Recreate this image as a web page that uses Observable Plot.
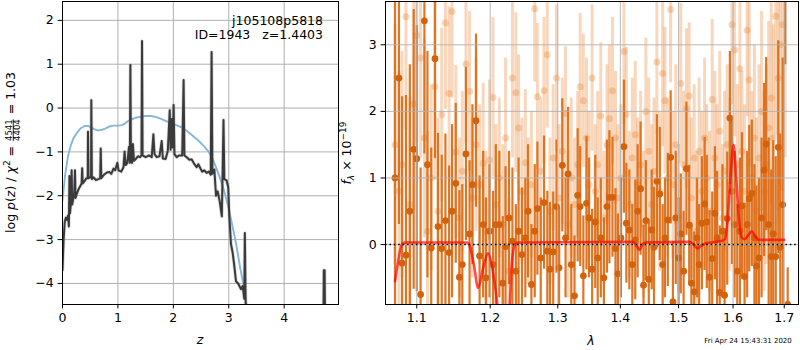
<!DOCTYPE html>
<html><head><meta charset="utf-8">
<script src="https://cdn.jsdelivr.net/npm/d3@7"></script>
<script src="https://cdn.jsdelivr.net/npm/@observablehq/plot@0.6"></script>
<style>
html,body{margin:0;padding:0;background:#fff;}
#wrap{position:relative;width:800px;height:350px;font-family:"DejaVu Sans";}
#wrap svg{position:absolute;left:0;top:0;overflow:visible;}
</style></head><body><div id="wrap"></div>
<script>
// ---------- left panel: p(z) ----------
const zTicks = [0, 1, 2, 3, 4];
const pTicks = [-4, -3, -2, -1, 0, 1, 2];
const pzZ = [0.00,0.02,0.04,0.06,0.08,0.10,0.115,0.125,0.135,0.15,0.165,0.175,0.19,0.21,0.225,0.235,0.26,0.29,0.32,0.345,0.355,0.365,0.40,0.43,0.455,0.46,0.47,0.50,0.515,0.52,0.53,0.56,0.60,0.65,0.68,0.69,0.70,0.75,0.80,0.85,0.88,0.92,0.95,0.99,1.01,1.06,1.10,1.12,1.14,1.17,1.20,1.215,1.225,1.235,1.255,1.27,1.29,1.33,1.36,1.40,1.425,1.435,1.445,1.50,1.56,1.61,1.64,1.66,1.70,1.75,1.79,1.81,1.86,1.90,1.935,1.95,1.97,1.985,2.005,2.02,2.06,2.10,2.16,2.185,2.20,2.24,2.29,2.33,2.38,2.42,2.45,2.49,2.52,2.56,2.60,2.64,2.675,2.69,2.705,2.74,2.77,2.80,2.84,2.875,2.905,2.92,2.96,2.99,3.01,3.04,3.07,3.10,3.13,3.17,3.22,3.25,3.28,3.29,3.31,3.35,4.70,4.715,4.73,4.745,4.98];
const pzLogP = [-3.7,-3.0,-2.6,-2.5,-2.55,-2.45,-2.7,-1.55,-2.4,-2.2,-1.42,-2.2,-2.1,-1.95,-1.42,-2.05,-1.95,-1.85,-1.78,-1.72,-1.37,-1.72,-1.66,-1.6,-1.6,-0.54,-1.6,-1.58,-1.58,0.18,-1.62,-1.58,-1.64,-1.62,-1.6,-0.92,-1.6,-1.52,-1.47,-1.46,-1.5,-1.38,-1.42,-1.25,-1.42,-1.45,-1.35,-0.99,-1.3,-1.25,-0.88,-1.25,0.98,-1.2,-1.25,-0.82,-1.2,-1.15,-1.1,-1.12,-1.08,1.53,-1.08,-1.12,-1.08,-1.12,-0.6,-1.05,-1.12,-1.1,-0.75,-1.15,-1.16,-0.98,-0.05,-0.95,-0.25,-0.9,0.07,-1.05,-1.12,-1.08,-1.08,0.64,-1.08,-1.12,-1.18,-1.17,-1.28,-1.35,-1.28,-1.38,-1.45,-1.42,-1.48,-1.45,-1.52,1.28,-1.5,-1.4,-2.0,-1.9,-2.15,-2.47,-0.27,-1.62,-1.65,-1.8,-2.47,-3.1,-3.3,-3.6,-3.95,-4.0,-4.13,-4.06,-4.35,-2.85,-5.0,-6.0,-6.0,-3.7,-3.7,-6.0,-6.0];
const priorZ = [0,0.05,0.1,0.15,0.2,0.27,0.33,0.4,0.47,0.52,0.57,0.63,0.7,0.77,0.85,0.92,1.0,1.07,1.12,1.18,1.25,1.32,1.4,1.5,1.6,1.68,1.77,1.86,1.95,2.05,2.15,2.25,2.35,2.45,2.55,2.62,2.7,2.78,2.86,2.93,3.0,3.06,3.13,3.2,3.26,3.33,3.4];
const priorLogP = [-2.1,-1.5,-1.1,-0.85,-0.68,-0.55,-0.46,-0.41,-0.41,-0.44,-0.48,-0.51,-0.5,-0.47,-0.42,-0.4,-0.4,-0.39,-0.36,-0.3,-0.26,-0.22,-0.2,-0.18,-0.18,-0.2,-0.24,-0.29,-0.34,-0.39,-0.44,-0.53,-0.63,-0.74,-0.87,-0.97,-1.13,-1.38,-1.66,-1.95,-2.3,-2.65,-3.08,-3.6,-4.0,-4.55,-5.0];

// ---------- right panel: 1D spectrum ----------
const lamTicks = [1.1, 1.2, 1.3, 1.4, 1.5, 1.6, 1.7];
const fTicks = [0, 1, 2, 3];
const lam = [
1.072,1.077,1.081,1.086,1.091,1.096,1.100,1.105,1.110,1.114,
1.119,1.124,1.128,1.133,1.138,1.143,1.147,1.152,1.157,1.161,
1.166,1.171,1.175,1.180,1.185,1.190,1.194,1.199,1.204,1.208,
1.213,1.218,1.222,1.227,1.232,1.237,1.241,1.246,1.251,1.255,
1.260,1.265,1.269,1.274,1.279,1.284,1.288,1.293,1.298,1.302,
1.307,1.312,1.316,1.321,1.326,1.331,1.335,1.340,1.345,1.349,
1.354,1.359,1.363,1.368,1.373,1.378,1.382,1.387,1.392,1.396,
1.401,1.406,1.410,1.415,1.420,1.425,1.429,1.434,1.439,1.443,
1.448,1.453,1.457,1.462,1.467,1.472,1.476,1.481,1.486,1.490,
1.495,1.500,1.504,1.509,1.514,1.519,1.523,1.528,1.533,1.537,
1.542,1.547,1.551,1.556,1.561,1.566,1.570,1.575,1.580,1.584,
1.589,1.594,1.598,1.603,1.608,1.613,1.617,1.622,1.627,1.631,
1.636,1.641,1.645,1.650,1.655,1.660,1.664,1.669,1.674,1.678,
1.683,1.688,1.692,1.697,1.702,1.707];
const darkFlux = [
1.0,2.50,-0.28,-0.16,0.5,1.43,1.29,-0.75,3.36,1.2,
-0.05,2.79,0.27,-0.06,0.36,-0.12,0.5,0.92,-0.49,-0.30,
1.36,0.16,0.9,1.86,-0.17,0.3,-0.5,0.2,-0.3,0.3,
0.3,-0.58,-0.03,0.4,0.05,-0.4,0.2,-0.15,0.1,0.5,
-0.6,0.2,0.54,-0.2,0.63,-0.1,-0.37,-0.11,0.57,-0.35,
1.19,0.1,1.06,-0.3,-0.77,0.74,0.57,-0.47,0.62,0.4,
-0.37,0.34,-0.2,0.1,-0.5,0.57,0.71,0.71,-0.06,-0.44,
0.1,1.47,0.32,0.22,-0.3,0.07,0.5,0.84,-0.61,0.36,
-0.52,0.22,-0.04,0.95,0.76,-0.3,0.1,0.37,1.31,-0.86,
0.4,-0.2,0.16,-0.4,1.14,0.29,-0.58,-0.71,0.1,-0.3,
0.32,0.61,0.34,-0.49,-0.21,0.47,0.1,-0.72,0.2,-0.76,
0.39,1.90,0.8,0.3,-0.4,0.2,0.58,-0.48,0.3,0.69,
0.77,0.1,-0.32,-0.2,0.4,1.12,1.51,0.3,-0.18,0.16,
-0.18,1.46,-0.04,0.6,3.8,-0.9];
const darkErr = [
2.8,2.2,2.5,2.4,2.2,2.1,2.0,1.9,2.0,1.7,
1.5,1.5,1.4,1.4,1.3,1.3,1.3,1.2,1.3,1.2,
1.3,1.1,1.2,1.3,1.2,1.1,1.2,1.0,1.1,1.2,
1.1,1.0,1.2,1.0,1.1,1.0,1.1,1.0,0.9,1.0,
0.9,1.0,1.0,0.9,1.0,0.9,1.0,0.9,1.0,0.9,
1.0,0.9,1.0,0.9,0.9,1.0,0.9,0.9,1.0,0.9,
0.9,1.0,0.9,0.9,0.9,1.0,1.0,0.9,0.9,0.9,
0.9,1.0,0.9,0.9,0.9,0.9,1.0,1.0,0.9,0.9,
0.9,0.9,0.9,1.0,1.0,0.9,0.9,1.0,1.0,0.9,
1.0,0.9,0.9,0.9,1.0,0.9,0.9,0.9,0.9,0.9,
1.0,1.0,1.0,1.0,1.0,1.0,1.0,1.0,1.0,1.0,
1.0,1.0,1.1,1.1,1.0,1.1,1.1,1.1,1.1,1.1,
1.1,1.1,1.2,1.2,1.2,1.3,1.3,1.3,1.3,1.4,
1.5,1.6,1.7,2.2,1.1,0.55];
const lightFlux = [
1.5,0.8,1.2,3.42,0.6,2.11,3.14,2.8,1.6,0.2,
1.0,2.37,0.5,1.95,3.33,2.27,3.5,1.39,0.4,1.1,
2.71,2.3,0.7,1.5,0.9,1.22,0.2,1.27,2.21,0.6,
1.0,0.3,1.6,-0.4,2.5,2.28,1.75,0.8,1.23,0.5,
0.9,3.54,2.22,1.1,2.31,2.85,0.5,1.3,2.5,0.7,
1.4,1.97,0.3,1.0,0.6,1.2,2.37,2.16,1.6,0.9,
2.5,0.8,1.2,1.93,0.4,1.5,1.89,2.31,1.6,0.7,
1.0,2.9,1.96,0.6,1.3,1.65,0.9,1.2,0.3,2.0,
1.4,0.6,1.1,2.74,0.8,2.57,2.16,1.0,3.53,0.9,
1.5,0.4,2.42,1.2,2.04,2.23,0.7,1.3,0.2,1.4,
0.8,1.6,1.0,0.5,2.18,1.3,0.9,1.7,0.4,1.1,
1.5,0.9,3.3,2.92,1.2,2.64,1.4,0.8,3.22,2.47,
1.0,1.6,0.5,1.3,2.0,0.8,1.2,1.75,2.2,1.6,
3.43,2.5,3.0,3.3,3.8,null];
const lightErr = [
1.8,1.8,1.7,1.7,1.6,1.6,1.6,1.5,1.5,1.5,
1.4,1.4,1.4,1.3,1.3,1.3,1.3,1.3,1.2,1.2,
1.2,1.2,1.2,1.3,1.2,1.2,1.2,1.2,1.2,1.2,
1.2,1.2,1.2,1.1,1.2,1.2,1.1,1.1,1.1,1.1,
1.1,1.1,1.1,1.1,1.1,1.1,1.1,1.1,1.1,1.1,
1.1,1.0,1.1,1.2,1.0,1.1,1.1,1.0,1.2,1.1,
1.1,1.0,1.1,1.1,1.0,1.2,1.1,1.1,1.0,1.1,
1.1,1.1,1.0,1.1,1.2,1.1,1.0,1.1,1.1,1.1,
1.1,1.2,1.1,1.1,1.2,1.1,1.1,1.2,1.1,1.1,
1.2,1.1,1.2,1.1,1.2,1.1,1.2,1.1,1.2,1.1,
1.2,1.2,1.1,1.2,1.2,1.3,1.2,1.2,1.1,1.2,
1.2,1.3,1.2,1.3,1.2,1.3,1.2,1.3,1.3,1.3,
1.3,1.4,1.4,1.4,1.5,1.5,1.5,1.6,1.6,1.7,
1.8,2.0,2.2,2.5,2.5,null];
const modelLam = [1.072,1.076,1.08,1.085,1.10,1.168,1.172,1.177,1.183,1.19,1.197,1.202,1.208,1.212,1.227,1.231,1.235,1.24,1.42,1.426,1.432,1.437,1.442,1.52,1.527,1.534,1.54,1.55,1.575,1.585,1.59,1.596,1.601,1.606,1.611,1.617,1.622,1.63,1.636,1.642,1.65,1.70];
const modelFlux = [-0.55,-0.25,-0.02,0.03,0.03,0.03,-0.05,-0.3,-0.65,-0.35,-0.13,-0.3,-0.7,-1.0,-1.0,-0.3,-0.02,0.03,0.04,0.0,-0.08,0.0,0.03,0.04,0.0,-0.06,-0.02,0.02,0.05,0.08,0.4,1.1,1.5,1.0,0.4,0.1,0.08,0.15,0.2,0.13,0.07,0.07];

const annot1 = "j105108p5818";
const annot2 = "ID=1943   z=1.4403";
const stamp = "Fri Apr 24 15:43:31 2020";

// ---------- build ----------
const W = 800, H = 350;
const FONT = "DejaVu Sans";
const fmt = d => (d < 0 ? "\u2212" + Math.abs(d) : String(d));
const baseStyle = {background: "transparent", fontFamily: FONT, fontSize: "12.5px", color: "black", overflow: "visible"};
const GRID = "#b0b0b0";

const pzData = pzZ.map((z, i) => ({z, v: pzLogP[i]}));
const priorData = priorZ.map((z, i) => ({z, v: priorLogP[i]}));
const darkData = lam.map((l, i) => ({lam: l, v: darkFlux[i], e: darkErr[i]})).filter(d => d.v != null);
const lightData = lam.map((l, i) => ({lam: l, v: lightFlux[i], e: lightErr[i]})).filter(d => d.v != null);
const modelData = modelLam.map((l, i) => ({lam: l, v: modelFlux[i]}));

const left = Plot.plot({
  width: W, height: H, marginLeft: 62, marginRight: 462, marginTop: 1, marginBottom: 46,
  style: baseStyle,
  x: {domain: [0, 4.98], ticks: zTicks, tickFormat: fmt, tickSize: 4.4, tickPadding: 4.4, label: null},
  y: {domain: [-4.48, 2.43], ticks: pTicks, tickFormat: fmt, tickSize: 4.4, tickPadding: 4.4, label: null},
  marks: [
    Plot.ruleX(zTicks, {stroke: GRID, strokeWidth: 1}),
    Plot.ruleY(pTicks, {stroke: GRID, strokeWidth: 1}),
    Plot.line(priorData, {x: "z", y: "v", stroke: "#86b6d9", strokeWidth: 1.9, clip: true}),
    Plot.line(pzData, {x: "z", y: "v", stroke: "#999", strokeWidth: 3.6, strokeOpacity: 0.35, clip: true}),
    Plot.line(pzData, {x: "z", y: "v", stroke: "#3a3a3a", strokeWidth: 2, clip: true}),
    Plot.frame({stroke: "black", strokeWidth: 1})
  ]
});

const right = Plot.plot({
  width: W, height: H, marginLeft: 385, marginRight: 2, marginTop: 1, marginBottom: 46,
  style: baseStyle,
  x: {type: "log", domain: [1.06, 1.729], ticks: lamTicks, tickFormat: d => d.toFixed(1), tickSize: 4.4, tickPadding: 4.4, label: null},
  y: {domain: [-0.9, 3.65], ticks: fTicks, tickFormat: fmt, tickSize: 4.4, tickPadding: 4.4, label: null},
  marks: [
    Plot.ruleX(lightData, {x: "lam", y1: d => d.v - d.e, y2: d => d.v + d.e, stroke: "#e8832f", strokeOpacity: 0.32, strokeWidth: 3, clip: true}),
    Plot.dot(lightData, {x: "lam", y: "v", r: 3.5, fill: "#e8832f", fillOpacity: 0.32, stroke: "none", clip: true}),
    Plot.ruleX(darkData, {x: "lam", y1: d => d.v - d.e, y2: d => d.v + d.e, stroke: "#db6a14", strokeOpacity: 0.92, strokeWidth: 2.2, clip: true}),
    Plot.dot(darkData, {x: "lam", y: "v", r: 3.4, fill: "#d4620c", stroke: "none", clip: true}),
    Plot.ruleX(lamTicks, {stroke: GRID, strokeWidth: 1, strokeOpacity: 0.9}),
    Plot.ruleY(fTicks, {stroke: GRID, strokeWidth: 1, strokeOpacity: 0.9}),
    Plot.line(modelData, {x: "lam", y: "v", stroke: "red", strokeOpacity: 0.7, strokeWidth: 2.6, curve: "monotone-x", clip: true}),
    Plot.ruleY([0], {stroke: "black", strokeWidth: 1.6, strokeDasharray: "1.6,2.8"}),
    Plot.frame({stroke: "black", strokeWidth: 1})
  ]
});

const wrap = document.getElementById("wrap");
wrap.appendChild(left);
wrap.appendChild(right);

const svg = d3.select(right);
const txt = (x, y, s, size, anchor) => svg.append("text").attr("x", x).attr("y", y)
  .attr("font-family", FONT).attr("font-size", size).attr("text-anchor", anchor || "start")
  .attr("fill", "black").style("white-space", "pre").text(s);

// annotation in left panel
txt(323, 24.5, annot1, 12.5, "end");
txt(323, 39, annot2, 12.5, "end");

// x labels
txt(200, 344, "z", 12.5, "middle").attr("font-style", "italic");
txt(591, 345, "\u03bb", 12.5, "middle").attr("font-style", "italic");
// timestamp
txt(748, 343, stamp, 7, "middle");

// left y label with stacked fraction (single text chunk)
{
  const g = svg.append("g").attr("transform", "translate(15,152.5) rotate(-90)");
  const t = g.append("text").attr("font-family", FONT).attr("font-size", 12.5).attr("fill", "black")
    .attr("text-anchor", "middle").style("white-space", "pre");
  t.append("tspan").text("log ");
  t.append("tspan").attr("font-style", "italic").text("p");
  t.append("tspan").text("(");
  t.append("tspan").attr("font-style", "italic").text("z");
  t.append("tspan").text(") / ");
  t.append("tspan").attr("font-style", "italic").text("\u03c7");
  t.append("tspan").attr("font-size", 9).attr("dy", -5).text("2");
  t.append("tspan").attr("dy", 5).text(" = ");
  t.append("tspan").attr("font-size", 8.5).attr("dy", -3.2).attr("dx", 1)
    .style("text-decoration", "underline").text("4541");
  t.append("tspan").attr("font-size", 8.5).attr("dy", 8.6).attr("dx", -21.6).text("4404");
  t.append("tspan").attr("dy", -5.4).attr("dx", 1).text(" = 1.03");
}

// right y label
{
  const g = svg.append("g").attr("transform", "translate(351,153) rotate(-90)");
  const t = g.append("text").attr("font-family", FONT).attr("font-size", 12.5).attr("text-anchor", "middle")
    .attr("fill", "black").style("white-space", "pre");
  t.append("tspan").attr("font-style", "italic").text("f");
  t.append("tspan").attr("font-style", "italic").attr("font-size", 9).attr("dy", 2.5).text("\u03bb");
  t.append("tspan").attr("dy", -2.5).text(" \u00d7 10");
  t.append("tspan").attr("font-size", 9).attr("dy", -5).text("\u221219");
}
</script></body></html>
